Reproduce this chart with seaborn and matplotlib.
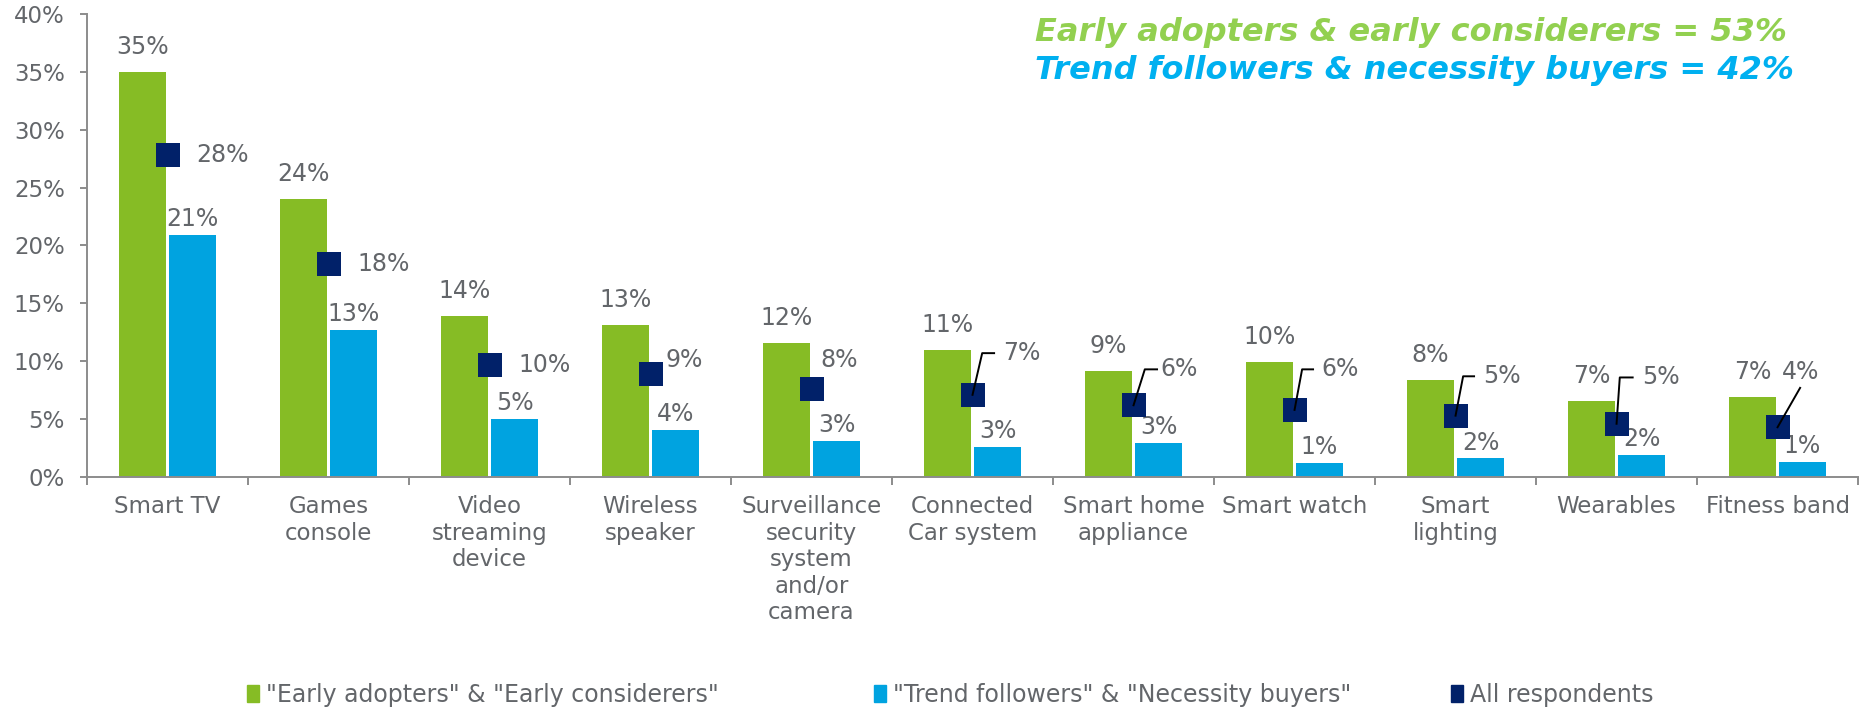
import numpy as np
import pandas as pd
import seaborn as sns
import matplotlib.pyplot as plt
from matplotlib.patches import Patch

# values (percent of respondents)
categories = ['Smart TV', 'Games\nconsole', 'Video\nstreaming\ndevice', 'Wireless\nspeaker',
              'Surveillance\nsecurity\nsystem\nand/or\ncamera', 'Connected\nCar system',
              'Smart home\nappliance', 'Smart watch', 'Smart\nlighting', 'Wearables', 'Fitness band']
early = [35.0, 24.0, 13.9, 13.1, 11.6, 11.0, 9.2, 9.9, 8.4, 6.6, 6.9]
trend = [20.9, 12.7, 5.0, 4.1, 3.1, 2.6, 2.9, 1.2, 1.6, 1.9, 1.3]
everyone = [27.8, 18.4, 9.7, 8.9, 7.6, 7.1, 6.2, 5.8, 5.3, 4.6, 4.3]
series_names = ['"Early adopters" & "Early considerers"',
                '"Trend followers" & "Necessity buyers"',
                'All respondents']
headline = ['Early adopters & early considerers = 53%',
            'Trend followers & necessity buyers = 42%']
yticks = [0, 5, 10, 15, 20, 25, 30, 35, 40]

GREEN = '#86BC25'
BLUE = '#00A3E0'
NAVY = '#012169'
GRAY = '#63666A'
AXIS = '#8C8C8C'

# label placement for the "All respondents" values: (kind, label dx, label dy, elbow dx, end dx)
lbl_layout = [('side', 0.18, 0.0, 0, 0), ('side', 0.18, 0.0, 0, 0), ('side', 0.18, 0.0, 0, 0),
              ('side', 0.093, 1.2, 0, 0), ('side', 0.056, 2.5, 0, 0),
              ('elbow', 0.19, 3.6, 0.06, 0.134), ('elbow', 0.165, 3.1, 0.07, 0.146),
              ('elbow', 0.165, 3.5, 0.047, 0.115), ('elbow', 0.17, 3.4, 0.047, 0.115),
              ('elbow', 0.16, 4.0, 0.02, 0.10), ('diag', 0.14, 4.8, 0.14, 3.4)]
# left edge of each legend entry, figure fraction
legend_x = [0.133, 0.470, 0.7805]

df = pd.DataFrame({
    'category': categories * 2,
    'value': early + trend,
    'group': [series_names[0]] * len(early) + [series_names[1]] * len(trend),
})

fig = plt.figure(figsize=(18.59, 7.09), dpi=100)
ax = fig.add_axes([87 / 1859, 1 - 477 / 709, 1 - 87 / 1859 - 0.0005, (477 - 14) / 709])

sns.barplot(data=df, x='category', y='value', hue='group', palette=[GREEN, BLUE],
            width=0.62, gap=0.06, saturation=1, errorbar=None, legend=False,
            linewidth=0, ax=ax)

# bar labels
for cont, off in zip(ax.containers, [18, 11.5]):
    for bar in cont:
        x = bar.get_x() + bar.get_width() / 2
        h = bar.get_height()
        ax.annotate(f'{h:.0f}%', (x, h), xytext=(0, off), textcoords='offset points',
                    ha='center', va='center', fontsize=17, color=GRAY)

# all respondents markers
xs = np.arange(len(categories))
sns.scatterplot(x=xs, y=everyone, marker='s', s=300, color=NAVY, linewidth=0,
                zorder=5, ax=ax, legend=False)

for x, v, (kind, ldx, ldy, edx, endx) in zip(xs, everyone, lbl_layout):
    txt = f'{v:.0f}%'
    if kind == 'side':
        ax.text(x + ldx, v + ldy, txt, ha='left', va='center', fontsize=17, color=GRAY)
    elif kind == 'elbow':
        ax.plot([x, x + edx, x + endx], [v, v + ldy, v + ldy], color='black', lw=1.4, zorder=6)
        ax.text(x + ldx, v + ldy, txt, ha='left', va='center', fontsize=17, color=GRAY)
    else:
        ax.plot([x, x + edx], [v, v + endx], color='black', lw=1.4, zorder=6)
        ax.text(x + ldx, v + ldy, txt, ha='center', va='center', fontsize=17, color=GRAY)

ax.set_xlim(-0.5, len(categories) - 0.5)
ax.set_ylim(0, 40)
ax.set_yticks(yticks)
ax.set_yticklabels([f'{t}%' for t in yticks])
ax.set_xticks(xs)
ax.set_xticklabels(categories, linespacing=1.2)
ax.set_xticks(np.arange(-0.5, len(categories), 1), minor=True)
ax.set_xlabel('')
ax.set_ylabel('')

for side in ['top', 'right']:
    ax.spines[side].set_visible(False)
for side in ['left', 'bottom']:
    ax.spines[side].set_color(AXIS)
    ax.spines[side].set_linewidth(1.4)

ax.tick_params(axis='x', which='major', length=0, pad=13, labelsize=16.5, labelcolor=GRAY)
ax.tick_params(axis='x', which='minor', length=6, width=1.4, color=AXIS, direction='out')
ax.tick_params(axis='y', length=5, width=1.4, color=AXIS, pad=11, labelsize=16.5, labelcolor=GRAY)

# headline numbers
fig.text(1035 / 1859, 1 - 33 / 709, headline[0], color='#92D050', fontsize=23,
         fontweight='bold', style='italic', ha='left', va='center')
fig.text(1035 / 1859, 1 - 71 / 709, headline[1], color='#00B0F0', fontsize=23,
         fontweight='bold', style='italic', ha='left', va='center')

# legend: one entry per box so each sits where the reference has it
for col, name, lx in zip([GREEN, BLUE, NAVY], series_names, legend_x):
    fig.legend([Patch(color=col)], [name], loc='center left', bbox_to_anchor=(lx, 0.02),
               frameon=False, fontsize=17, handlelength=0.5, handleheight=0.7,
               handletextpad=0.3, borderpad=0, borderaxespad=0, labelcolor=GRAY)

fig.savefig('out.png', dpi=100)
